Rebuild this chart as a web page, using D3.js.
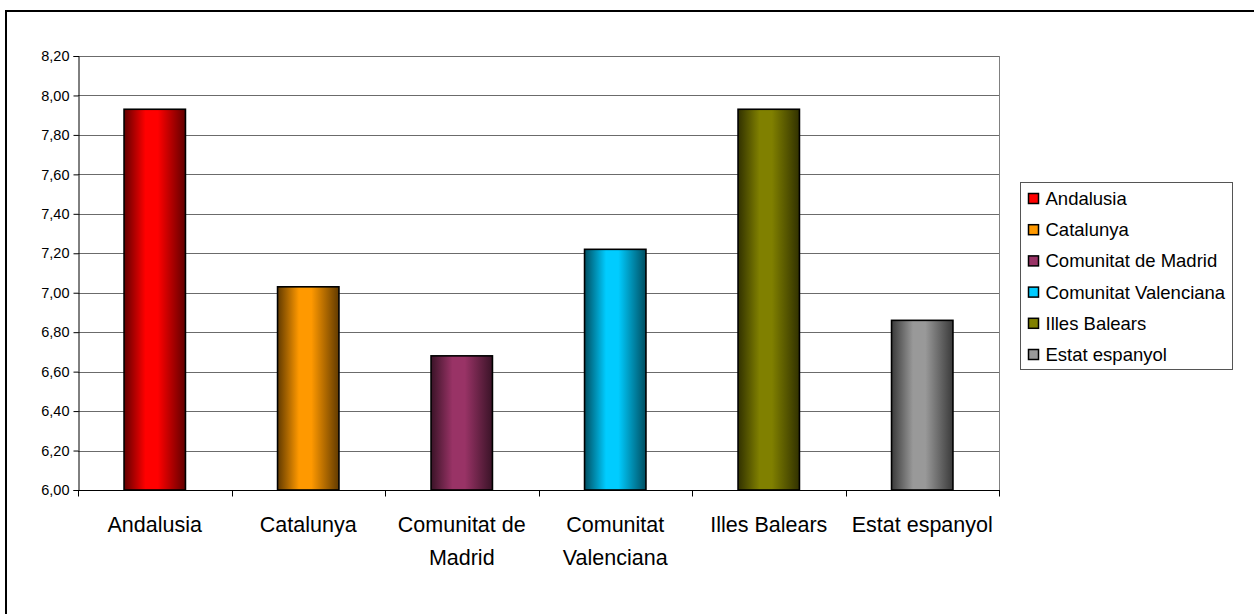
<!DOCTYPE html>
<html>
<head>
<meta charset="utf-8">
<script src="https://cdn.jsdelivr.net/npm/d3@7"></script>
<style>
  html, body { margin: 0; padding: 0; background: #fff; }
  svg { display: block; font-family: "Liberation Sans", Arial, sans-serif; }
</style>
</head>
<body>
<svg id="chart" width="1254" height="614"></svg>
<script>
const categories = ["Andalusia", "Catalunya", "Comunitat de Madrid", "Comunitat Valenciana", "Illes Balears", "Estat espanyol"];
const categoryLines = [["Andalusia"], ["Catalunya"], ["Comunitat de", "Madrid"], ["Comunitat", "Valenciana"], ["Illes Balears"], ["Estat espanyol"]];
const values = [7.93, 7.03, 6.68, 7.22, 7.93, 6.86];
const colors = ["#FF0000", "#FF9900", "#993366", "#00CCFF", "#808000", "#999999"];
const yTicks = [6.0, 6.2, 6.4, 6.6, 6.8, 7.0, 7.2, 7.4, 7.6, 7.8, 8.0, 8.2];

const svg = d3.select("#chart");
const plot = { left: 78, right: 999, top: 56, bottom: 490 };

// outer frame
svg.append("rect").attr("x", 6).attr("y", 11).attr("width", 1300).attr("height", 700)
  .attr("fill", "none").attr("stroke", "#000").attr("stroke-width", 2);

const x = d3.scaleBand().domain(categories).range([plot.left, plot.right]).paddingInner(0.6).paddingOuter(0.3);
const xOuter = d3.scaleBand().domain(categories).range([plot.left, plot.right]).padding(0);
const y = d3.scaleLinear().domain([6.0, 8.2]).range([plot.bottom, plot.top]);

// gradients
const defs = svg.append("defs");
colors.forEach((c, i) => {
  const dark = d3.interpolateRgb(c, "#000")(0.62);
  const g = defs.append("linearGradient").attr("id", "g" + i)
    .attr("x1", "0%").attr("x2", "100%").attr("y1", "0%").attr("y2", "0%");
  g.append("stop").attr("offset", "0%").attr("stop-color", dark);
  g.append("stop").attr("offset", "35%").attr("stop-color", c);
  g.append("stop").attr("offset", "55%").attr("stop-color", c);
  g.append("stop").attr("offset", "100%").attr("stop-color", dark);
});

// gridlines
svg.append("g").selectAll("line").data(yTicks.slice(1)).join("line")
  .attr("x1", plot.left).attr("x2", plot.right)
  .attr("y1", d => Math.round(y(d)) + 0.5).attr("y2", d => Math.round(y(d)) + 0.5)
  .attr("stroke", "#6b6b6b").attr("stroke-width", 1);
// right border of plot area
svg.append("line").attr("x1", plot.right + 0.5).attr("x2", plot.right + 0.5)
  .attr("y1", plot.top).attr("y2", plot.bottom).attr("stroke", "#808080");

// y axis
const yAxis = d3.axisLeft(y).tickValues(yTicks).tickSize(5).tickPadding(4)
  .tickFormat(d => d3.format(".2f")(d).replace(".", ","));
const yg = svg.append("g").attr("transform", `translate(${plot.left + 0.5},0)`).call(yAxis);
yg.select(".domain").attr("stroke", "#000");
yg.selectAll(".tick line").attr("stroke", "#000");
yg.selectAll(".tick text").attr("font-size", 14.5).attr("fill", "#000")
  .attr("font-family", "'Liberation Sans', Arial, sans-serif");

// bars
svg.append("g").selectAll("rect").data(categories).join("rect")
  .attr("x", d => x(d)).attr("width", x.bandwidth())
  .attr("y", (d, i) => y(values[i])).attr("height", (d, i) => y(6.0) - y(values[i]))
  .attr("fill", (d, i) => `url(#g${i})`).attr("stroke", "#000").attr("stroke-width", 1.6);

// x axis
const xg = svg.append("g").attr("transform", `translate(0,${plot.bottom + 0.5})`);
xg.append("line").attr("x1", plot.left).attr("x2", plot.right + 1).attr("stroke", "#000");
const bounds = categories.map(c => xOuter(c)).concat([plot.right]);
xg.selectAll("line.tick").data(bounds).join("line").attr("class", "tick")
  .attr("x1", d => Math.round(d) + 0.5).attr("x2", d => Math.round(d) + 0.5)
  .attr("y1", 0).attr("y2", 6).attr("stroke", "#000");
const lbl = svg.append("g").selectAll("text").data(categories).join("text")
  .attr("x", d => xOuter(d) + xOuter.bandwidth() / 2)
  .attr("y", 532).attr("text-anchor", "middle").attr("font-size", 21.5).attr("fill", "#000");
lbl.each(function(d, i) {
  const t = d3.select(this);
  categoryLines[i].forEach((line, j) => {
    t.append("tspan").attr("x", xOuter(d) + xOuter.bandwidth() / 2).attr("dy", j === 0 ? 0 : 33).text(line);
  });
});

// legend
const lg = svg.append("g");
lg.append("rect").attr("x", 1020.5).attr("y", 182.5).attr("width", 212).attr("height", 187)
  .attr("fill", "#fff").attr("stroke", "#555").attr("stroke-width", 1);
const items = lg.selectAll("g").data(categories).join("g")
  .attr("transform", (d, i) => `translate(0,${198.5 + i * 31.2})`);
items.append("rect").attr("x", 1028.5).attr("y", -5).attr("width", 10).attr("height", 10)
  .attr("fill", (d, i) => colors[i]).attr("stroke", "#000").attr("stroke-width", 1.5);
items.append("text").attr("x", 1045.5).attr("y", 6.5).attr("font-size", 18.5).attr("fill", "#000").text(d => d);
</script>
</body>
</html>
